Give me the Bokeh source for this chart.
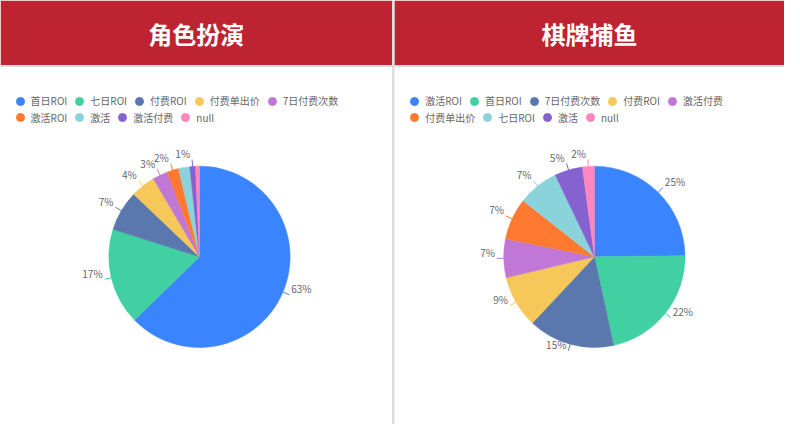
import numpy as np
from bokeh.plotting import figure
from bokeh.models import Range1d, ColumnDataSource, Legend, LegendItem
from bokeh.core.properties import value
from bokeh.embed import file_html
from bokeh.resources import INLINE

# ---------------- data ----------------
titles = ["角色扮演", "棋牌捕鱼"]

left_categories = ["首日ROI", "七日ROI", "付费ROI", "付费单出价", "7日付费次数",
                   "激活ROI", "激活", "激活付费", "null"]
left_values = [62.7, 17.2, 7.2, 4.4, 2.7, 2.1, 2.0, 1.0, 0.7]
left_label_shown = [True, True, True, True, True, True, False, True, False]

right_categories = ["激活ROI", "首日ROI", "7日付费次数", "付费ROI", "激活付费",
                    "付费单出价", "七日ROI", "激活", "null"]
right_values = [24.8, 21.8, 15.4, 9.3, 6.9, 7.4, 7.3, 5.0, 2.1]
right_label_shown = [True, True, True, True, True, True, True, True, True]

palette = ["#3A85FF", "#40D0A2", "#5A78AE", "#F5C859", "#C077D5",
           "#FF7A30", "#8AD3DB", "#8562D0", "#FF86BF"]

# ---------------- layout (reference page pixels) ----------------
W, H = 800, 440
FW, FH = 784, 424
KX, KY = FW / W, FH / H
FONT = "Noto Sans CJK SC"
HEADER_H = 67
SEP_X = (399.5, 402)
PIE_R = 92.5
PIE_CENTERS = [(203, 266), (606, 266)]
LEGEND_ROW_Y = [104.3, 121.7]
LEGEND_X0 = [20, 422.7]
TEXT_COLOR = "#666666"

p = figure(width=FW, height=FH, x_range=Range1d(0, W), y_range=Range1d(0, H),
           x_axis_type=None, y_axis_type=None, output_backend="svg",
           toolbar_location=None, min_border=0, outline_line_color=None,
           background_fill_color="white", border_fill_color="white")
p.grid.visible = False


def Y(v):
    return H - v


# headers
p.quad(left=[0, SEP_X[1]], right=[SEP_X[0], W], bottom=[Y(HEADER_H)] * 2, top=[H] * 2,
       fill_color="#BE2332", line_color=None)
p.quad(left=[0], right=[W], bottom=[Y(HEADER_H + 2)], top=[Y(HEADER_H)],
       fill_color="#DDDDDD", line_color=None)
p.quad(left=[SEP_X[0]], right=[SEP_X[1]], bottom=[0], top=[H],
       fill_color="#DDDDDD", line_color=None)

p.text(x=[(0 + SEP_X[0]) / 2, (SEP_X[1] + W) / 2], y=[Y(34.5)] * 2, text=titles,
       text_font=value(FONT), text_font_size="24px", text_font_style="bold",
       text_color="white", text_align="center", text_baseline="middle")


def draw_pie(center, cats, vals, shown, legend_x0):
    n = len(cats)
    cx, cy = center[0], Y(center[1])
    vals = np.asarray(vals, dtype=float)
    frac = vals / vals.sum()
    c_end = np.cumsum(frac)
    c_start = c_end - frac
    start = np.pi / 2 - 2 * np.pi * c_start
    end = np.pi / 2 - 2 * np.pi * c_end
    mid = np.pi * (c_start + c_end)  # clockwise from top
    colors = palette[:n]
    src = ColumnDataSource(dict(start=start, end=end, color=colors))
    p.wedge(x=cx, y=cy, radius=PIE_R, start_angle="start", end_angle="end",
            direction="clock", fill_color="color", line_color="color",
            line_width=0.5, source=src)

    # radial label lines; y distances converted so that screen geometry stays round
    ry = KX / KY
    sx, sy = np.sin(mid), np.cos(mid)
    m = np.array(shown)
    x0 = cx + PIE_R * sx
    y0 = cy + PIE_R * sy * ry
    x1 = cx + (PIE_R + 7) * sx
    y1 = cy + (PIE_R + 7) * sy * ry
    pct = np.array([f"{int(np.floor(f * 100 + 0.5))}%" for f in frac])
    align = np.where(sx >= 0, "left", "right")
    lsrc = ColumnDataSource(dict(x0=x0[m], y0=y0[m], x1=x1[m], y1=y1[m],
                                 tx=(x1 + np.where(sx >= 0, 2, -2))[m],
                                 ty=(y1 + 6 * ry)[m],
                                 t=pct[m], align=align[m],
                                 color=np.array(colors)[m]))
    p.segment(x0="x0", y0="y0", x1="x1", y1="y1", line_color="color", line_width=1,
              source=lsrc)
    p.text(x="tx", y="ty", text="t", text_align="align", text_baseline="middle",
           text_font=value(FONT), text_font_size="10px", text_color=TEXT_COLOR,
           source=lsrc)

    # legend proxy (no visible marks)
    nan = np.full(n, np.nan)
    psrc = ColumnDataSource(dict(x=nan, y=nan, color=colors))
    proxy = p.scatter("x", "y", source=psrc, fill_color="color", line_color="color",
                      size=8)
    rows = [list(range(0, 5)), list(range(5, n))]
    for row, yc in zip(rows, LEGEND_ROW_Y):
        items = [LegendItem(label=cats[i], renderers=[proxy], index=i) for i in row]
        top_in_frame = yc * KY - 10
        leg = Legend(items=items, orientation="horizontal",
                     location=(legend_x0 * KX - 10, FH - (top_in_frame + 20)),
                     glyph_width=20, glyph_height=20, label_standoff=1, spacing=2,
                     padding=0, margin=0, label_width=10, label_height=20,
                     border_line_color=None, background_fill_alpha=0,
                     label_text_font=FONT, label_text_font_size="10px",
                     label_text_color=TEXT_COLOR)
        p.add_layout(leg, "center")


draw_pie(PIE_CENTERS[0], left_categories, left_values, left_label_shown, LEGEND_X0[0])
draw_pie(PIE_CENTERS[1], right_categories, right_values, right_label_shown, LEGEND_X0[1])

open("out.html", "w").write(file_html(p, INLINE))
